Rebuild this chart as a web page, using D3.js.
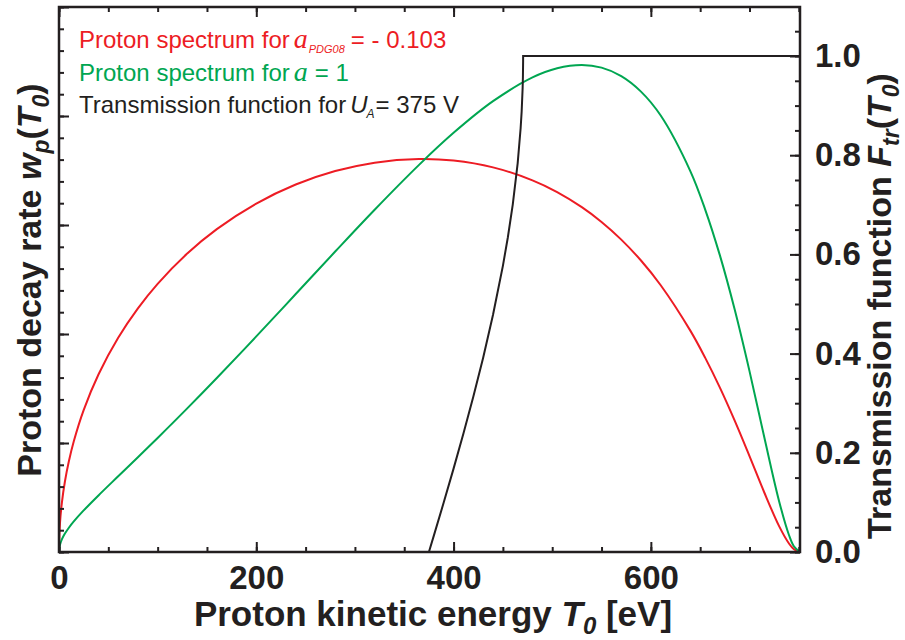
<!DOCTYPE html>
<html>
<head>
<meta charset="utf-8">
<script src="https://cdn.jsdelivr.net/npm/d3@7"></script>
<style>
  body { margin: 0; background: #fff; }
  svg { display: block; font-family: "Liberation Sans", Arial, sans-serif; }
</style>
</head>
<body>
<svg id="chart" width="905" height="640"></svg>
<script>
// Proton kinetic energy grid [eV] for the recoil spectra
const energy = [0, 1, 3, 6, 10, 15, 25, 40, 60, 80, 100, 130, 160, 200, 240, 280, 320, 365,
  400, 440, 480, 505, 530, 550, 570, 590, 610, 640, 655, 670, 685, 700, 715, 730, 740, 745, 751.2];

// Proton decay rate (arb. units) for a_PDG08 = -0.103
const rateRed = [0, 0.2648, 0.4580, 0.6464, 0.8321, 1.0155, 1.3016, 1.6286, 1.9652, 2.2349, 2.4601,
  2.7380, 2.9620, 3.1964, 3.3711, 3.4948, 3.5721, 3.6055, 3.5914, 3.5288, 3.4098, 3.3020, 3.1638,
  3.0280, 2.8661, 2.6743, 2.4476, 2.0310, 1.7834, 1.5077, 1.2047, 0.8794, 0.5460, 0.2373, 0.0784,
  0.0262, 0];

// Proton decay rate (arb. units) for a = 1
const rateGreen = [0, 0.0670, 0.1173, 0.1688, 0.2228, 0.2804, 0.3814, 0.5190, 0.6947, 0.8696, 1.0465,
  1.3178, 1.5965, 1.9779, 2.3665, 2.7564, 3.1401, 3.5517, 3.8455, 4.1360, 4.3538, 4.4377, 4.4678,
  4.4435, 4.3659, 4.2239, 4.0042, 3.4947, 3.1439, 2.7211, 2.2242, 1.6596, 1.0522, 0.4666, 0.1562,
  0.0524, 0];

// Transmission function for U_A = 375 V
const trEnergy = [375, 380, 390, 400, 410, 420, 430, 440, 450, 455, 460, 465, 468, 469, 470,
  470.3, 470.5, 470.514, 751.2];
const trValue = [0, 0.0330, 0.0997, 0.1681, 0.2388, 0.3128, 0.3918, 0.4782, 0.5769, 0.6341, 0.7004,
  0.7842, 0.8548, 0.8874, 0.9345, 0.9577, 0.9891, 1.0, 1.0];

// Tick values
const xMajorTicks = [0, 200, 400, 600];
const xMinorTicks = d3.range(0, 751, 50);
const leftMajorTicks = [0, 1, 2, 3, 4, 5];
const leftMinorTicks = d3.range(0, 5.001, 0.2);
const rightMajorTicks = [0, 0.2, 0.4, 0.6, 0.8, 1.0];
const rightMinorTicks = d3.range(0, 1.051, 0.05);

const ink = "#231F20";
const red = "#ED1C24";
const green = "#00A651";

const frame = { left: 59, right: 800, top: 7, bottom: 552 };

const svg = d3.select("#chart");

const x = d3.scaleLinear().domain([0, 751.2]).range([frame.left, frame.right]);
const yL = d3.scaleLinear().domain([0, 5]).range([frame.bottom, frame.top]);
const yR = d3.scaleLinear().domain([0, 1]).range([frame.bottom, 56]);

// ---- curves ----
const plot = svg.append("g");
const line = (ys, yScale) => d3.line()
  .x((d, i) => x(energy[i]))
  .y(d => yScale(d))
  .curve(d3.curveCatmullRom.alpha(0.5))(ys);

plot.append("path")
  .attr("d", line(rateRed, yL))
  .attr("fill", "none").attr("stroke", red).attr("stroke-width", 2);

plot.append("path")
  .attr("d", line(rateGreen, yL))
  .attr("fill", "none").attr("stroke", green).attr("stroke-width", 2);

plot.append("path")
  .attr("d", d3.line().x((d, i) => x(trEnergy[i])).y(d => yR(d))(trValue))
  .attr("fill", "none").attr("stroke", ink).attr("stroke-width", 2)
  .attr("stroke-linejoin", "miter");

// ---- axes (ticks point inward) ----
function styleAxis(g) {
  g.select(".domain").remove();
  g.selectAll(".tick line").attr("stroke", ink).attr("stroke-width", 2);
  g.selectAll(".tick text")
    .attr("fill", ink)
    .attr("font-family", "'Liberation Sans', Arial, sans-serif")
    .attr("font-weight", "bold")
    .attr("font-size", 33);
}

svg.append("g").attr("transform", `translate(0,${frame.bottom})`)
  .call(d3.axisBottom(x).tickValues(xMinorTicks).tickSize(-5).tickFormat(""))
  .call(styleAxis);
svg.append("g").attr("transform", `translate(0,${frame.bottom})`)
  .call(d3.axisBottom(x).tickValues(xMajorTicks).tickSize(-10).tickPadding(14).tickFormat(d3.format("d")))
  .call(styleAxis);

svg.append("g").attr("transform", `translate(0,${frame.top})`)
  .call(d3.axisTop(x).tickValues(xMinorTicks).tickSize(-5).tickFormat(""))
  .call(styleAxis);
svg.append("g").attr("transform", `translate(0,${frame.top})`)
  .call(d3.axisTop(x).tickValues(xMajorTicks).tickSize(-10).tickFormat(""))
  .call(styleAxis);

svg.append("g").attr("transform", `translate(${frame.left},0)`)
  .call(d3.axisLeft(yL).tickValues(leftMinorTicks).tickSize(-5).tickFormat(""))
  .call(styleAxis);
svg.append("g").attr("transform", `translate(${frame.left},0)`)
  .call(d3.axisLeft(yL).tickValues(leftMajorTicks).tickSize(-10).tickFormat(""))
  .call(styleAxis);

svg.append("g").attr("transform", `translate(${frame.right},0)`)
  .call(d3.axisRight(yR).tickValues(rightMinorTicks).tickSize(-5).tickFormat(""))
  .call(styleAxis);
svg.append("g").attr("transform", `translate(${frame.right},0)`)
  .call(d3.axisRight(yR).tickValues(rightMajorTicks).tickSize(-10).tickPadding(15).tickFormat(d3.format(".1f")))
  .call(styleAxis);

// ---- frame ----
svg.append("rect")
  .attr("x", frame.left).attr("y", frame.top)
  .attr("width", frame.right - frame.left).attr("height", frame.bottom - frame.top)
  .attr("fill", "none").attr("stroke", ink).attr("stroke-width", 2.5);

// ---- axis titles ----
const xTitle = svg.append("text")
  .attr("x", 433).attr("y", 626).attr("text-anchor", "middle")
  .attr("font-weight", "bold").attr("font-size", 35).attr("fill", ink);
xTitle.append("tspan").text("Proton kinetic energy ");
xTitle.append("tspan").attr("font-style", "italic").text("T");
xTitle.append("tspan").attr("font-style", "italic").attr("font-size", 24).attr("dy", 8).text("0");
xTitle.append("tspan").attr("dy", -8).text(" [eV]");

const yTitle = svg.append("text")
  .attr("transform", "translate(41,280) rotate(-90)").attr("text-anchor", "middle")
  .attr("font-weight", "bold").attr("font-size", 34).attr("fill", ink);
yTitle.append("tspan").text("Proton decay rate ");
yTitle.append("tspan").attr("font-style", "italic").text("w");
yTitle.append("tspan").attr("font-style", "italic").attr("font-size", 23).attr("dy", 8).text("p");
yTitle.append("tspan").attr("dy", -8).text("(");
yTitle.append("tspan").attr("font-style", "italic").text("T");
yTitle.append("tspan").attr("font-style", "italic").attr("font-size", 23).attr("dy", 8).text("0");
yTitle.append("tspan").attr("dy", -8).text(")");

const rTitle = svg.append("text")
  .attr("transform", "translate(891,306) rotate(-90)").attr("text-anchor", "middle")
  .attr("font-weight", "bold").attr("font-size", 34).attr("fill", ink);
rTitle.append("tspan").text("Transmission function ");
rTitle.append("tspan").attr("font-style", "italic").text("F");
rTitle.append("tspan").attr("font-style", "italic").attr("font-size", 23).attr("dy", 8).text("tr");
rTitle.append("tspan").attr("dy", -8).text("(");
rTitle.append("tspan").attr("font-style", "italic").text("T");
rTitle.append("tspan").attr("font-style", "italic").attr("font-size", 23).attr("dy", 8).text("0");
rTitle.append("tspan").attr("dy", -8).text(")");

// ---- legend ----
const legend = svg.append("g").attr("font-size", 24);

const l1 = legend.append("text").attr("x", 79).attr("y", 48).attr("fill", red);
l1.append("tspan").text("Proton spectrum for");
l1.append("tspan").attr("dx", 4).attr("font-family", "'Liberation Serif', 'Times New Roman', serif")
  .attr("font-style", "italic").attr("font-size", 28).text("a");
l1.append("tspan").attr("font-style", "italic").attr("font-size", 11).attr("dy", 5).attr("dx", 1).text("PDG08");
l1.append("tspan").attr("dy", -5).attr("dx", 6).text("= - 0.103");

const l2 = legend.append("text").attr("x", 79).attr("y", 81).attr("fill", green);
l2.append("tspan").text("Proton spectrum for");
l2.append("tspan").attr("dx", 4).attr("font-family", "'Liberation Serif', 'Times New Roman', serif")
  .attr("font-style", "italic").attr("font-size", 28).text("a");
l2.append("tspan").attr("dx", 7).text("= 1");

const l3 = legend.append("text").attr("x", 79).attr("y", 113).attr("fill", ink);
l3.append("tspan").text("Transmission function for");
l3.append("tspan").attr("dx", 4).attr("font-style", "italic").text("U");
l3.append("tspan").attr("font-style", "italic").attr("font-size", 12).attr("dy", 5).attr("dx", -1).text("A");
l3.append("tspan").attr("dy", -5).attr("dx", 1).text("= 375 V");
</script>
</body>
</html>
